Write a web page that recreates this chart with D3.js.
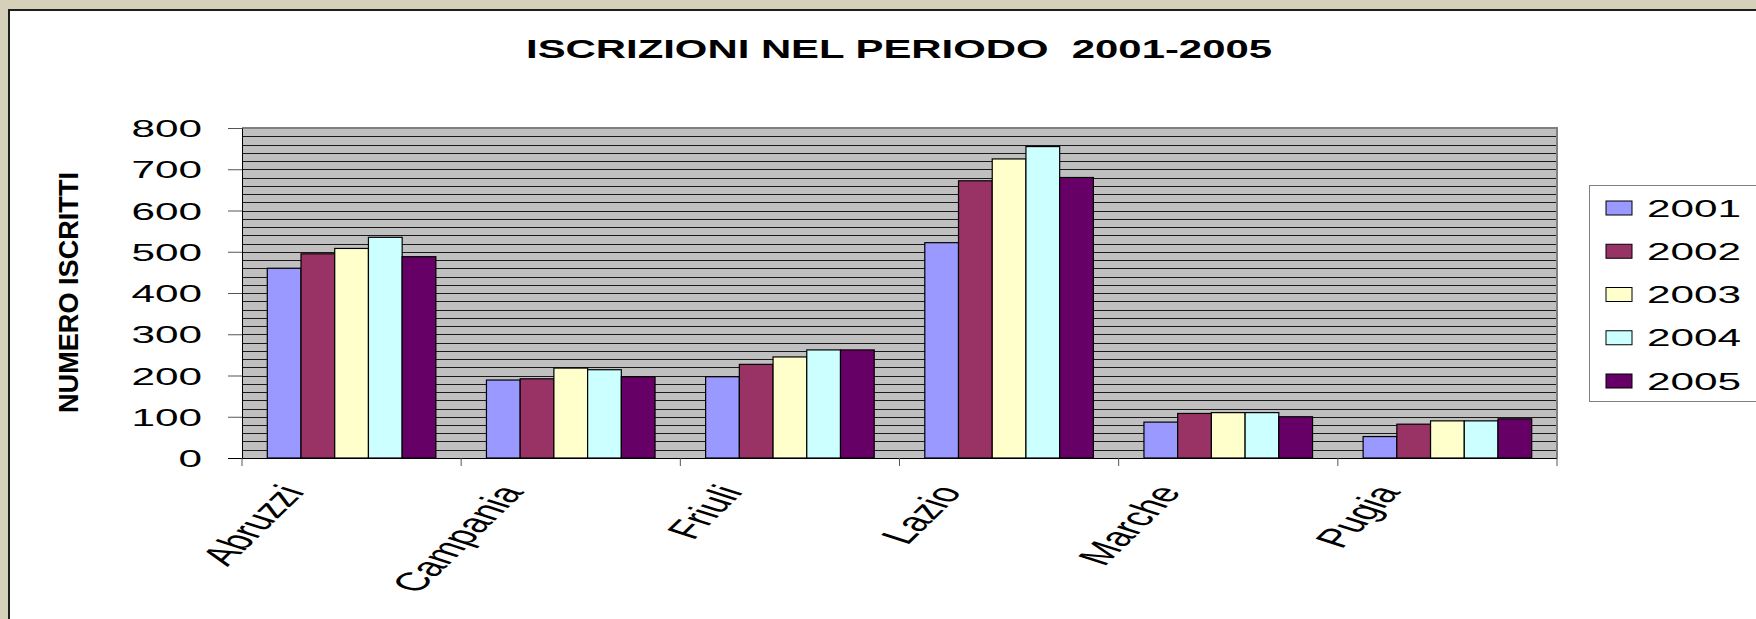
<!DOCTYPE html>
<html>
<head>
<meta charset="utf-8">
<script src="https://cdn.jsdelivr.net/npm/d3@7"></script>
<style>
  html, body { margin: 0; padding: 0; background: #d4d0b9; }
  svg { display: block; font-family: Arial, "Liberation Sans", sans-serif; }
</style>
</head>
<body>
<svg id="chart" width="1756" height="619"></svg>
<script>
'use strict';

// data
var categories = ["Abruzzi", "Campania", "Friuli", "Lazio", "Marche", "Pugia"];
var years = ["2001", "2002", "2003", "2004", "2005"];
var v2001 = [460, 189, 197, 522, 87, 52];
var v2002 = [495, 192, 227, 672, 108, 82];
var v2003 = [508, 218, 245, 725, 110, 90];
var v2004 = [535, 214, 262, 755, 110, 90];
var v2005 = [488, 197, 262, 680, 100, 95];
var yTicks = [0, 100, 200, 300, 400, 500, 600, 700, 800];
var colors = ["#9999ff", "#993366", "#ffffcc", "#ccffff", "#660066"];

var series = [v2001, v2002, v2003, v2004, v2005];

var W = 1756, H = 619;
var plot = {left: 242, top: 128, right: 1557, bottom: 458};
var SX = 1.8; // the source picture has its text stretched sideways

var svg = d3.select("#chart");

// tan frame + white chart area
svg.append("rect").attr("width", W).attr("height", H).attr("fill", "#d4d0b9");
svg.append("rect")
  .attr("x", 9).attr("y", 10)
  .attr("width", W).attr("height", H)
  .attr("fill", "#fff").attr("stroke", "#1e1e1e").attr("stroke-width", 2);

// scales
var x0 = d3.scaleBand().domain(categories).range([plot.left, plot.right]);
var x1 = d3.scaleBand().domain(years).range([0, x0.bandwidth()]).paddingOuter(0.75);
var y = d3.scaleLinear().domain([0, 800]).range([plot.bottom, plot.top]);

// plot background
svg.append("rect")
  .attr("x", plot.left).attr("y", plot.top)
  .attr("width", plot.right - plot.left).attr("height", plot.bottom - plot.top)
  .attr("fill", "#c0c0c0");

// gridlines every 20
svg.append("g")
  .selectAll("line")
  .data(d3.range(20, 800, 20))
  .enter().append("line")
    .attr("x1", plot.left).attr("x2", plot.right)
    .attr("y1", function(d) { return Math.round(y(d)) + 0.5; })
    .attr("y2", function(d) { return Math.round(y(d)) + 0.5; })
    .attr("stroke", "#1a1a1a").attr("stroke-width", 1);

// plot border top/right
svg.append("path")
  .attr("d", "M" + plot.left + "," + plot.top + "H" + plot.right + "V" + plot.bottom)
  .attr("fill", "none").attr("stroke", "#808080").attr("stroke-width", 2);

// bars
var groups = svg.append("g")
  .selectAll("g")
  .data(categories)
  .enter().append("g")
    .attr("transform", function(d) { return "translate(" + x0(d) + ",0)"; });

groups.selectAll("rect")
  .data(function(c, ci) {
    return years.map(function(yr, si) { return {year: yr, value: series[si][ci], i: si}; });
  })
  .enter().append("rect")
    .attr("x", function(d) { return x1(d.year); })
    .attr("y", function(d) { return y(d.value); })
    .attr("width", x1.bandwidth())
    .attr("height", function(d) { return plot.bottom - y(d.value); })
    .attr("fill", function(d) { return colors[d.i]; })
    .attr("stroke", "#000").attr("stroke-width", 1.2);

// y axis
var yAxis = svg.append("g")
  .attr("transform", "translate(" + plot.left + ",0)")
  .call(d3.axisLeft(y).tickValues(yTicks).tickSize(14).tickSizeOuter(0));
yAxis.select(".domain").attr("stroke", "#000");
yAxis.selectAll(".tick line").attr("stroke", "#555");
yAxis.selectAll(".tick text")
  .attr("x", null).attr("dy", null)
  .attr("font-size", 23.5).attr("fill", "#000")
  .attr("text-anchor", "end")
  .attr("transform", "translate(-40,8.5) scale(" + SX + ",1)");

// x axis: baseline and ticks at the band edges
var xAxis = svg.append("g")
  .attr("transform", "translate(0," + plot.bottom + ")")
  .call(d3.axisBottom(x0).tickSize(0).tickFormat(""));
xAxis.select(".domain")
  .attr("d", "M" + (plot.left - 14) + ",0.5H" + plot.right)
  .attr("stroke", "#000");
xAxis.selectAll(".tick").remove();

svg.append("g")
  .selectAll("line")
  .data(categories.concat([null]))
  .enter().append("line")
    .attr("x1", function(d) { return d ? x0(d) : plot.right; })
    .attr("x2", function(d) { return d ? x0(d) : plot.right; })
    .attr("y1", plot.bottom).attr("y2", plot.bottom + 8)
    .attr("stroke", "#555");

// category labels, rotated
svg.append("g")
  .selectAll("text")
  .data(categories)
  .enter().append("text")
    .attr("transform", function(d) {
      return "translate(" + (x0(d) + x0.bandwidth() / 2 - 46) + ",492) scale(" + SX + ",1) rotate(-60)";
    })
    .attr("text-anchor", "end")
    .attr("font-size", 26)
    .text(function(d) { return d; });

// title
svg.append("text")
  .attr("x", 526).attr("y", 58)
  .attr("font-size", 25).attr("font-weight", "bold")
  .attr("textLength", 746).attr("lengthAdjust", "spacingAndGlyphs")
  .style("white-space", "pre")
  .text("ISCRIZIONI NEL PERIODO  2001-2005");

// y axis title
svg.append("text")
  .attr("transform", "translate(78,292.5) rotate(-90)")
  .attr("text-anchor", "middle")
  .attr("font-size", 28).attr("font-weight", "bold")
  .attr("textLength", 241).attr("lengthAdjust", "spacingAndGlyphs")
  .text("NUMERO ISCRITTI");

// legend
var legend = svg.append("g");
legend.append("rect")
  .attr("x", 1589.5).attr("y", 185.5)
  .attr("width", 200).attr("height", 216)
  .attr("fill", "#fff").attr("stroke", "#808080").attr("stroke-width", 1);

var rowY = d3.scalePoint().domain(years).range([208, 381]);
var item = legend.selectAll("g.item")
  .data(years)
  .enter().append("g")
    .attr("class", "item")
    .attr("transform", function(d) { return "translate(0," + rowY(d) + ")"; });
item.append("rect")
  .attr("x", 1606).attr("y", -7)
  .attr("width", 26).attr("height", 14)
  .attr("fill", function(d, i) { return colors[i]; })
  .attr("stroke", "#000").attr("stroke-width", 1);
item.append("text")
  .attr("transform", "translate(1647,8.5) scale(" + SX + ",1)")
  .attr("font-size", 23.5)
  .text(function(d) { return d; });
</script>
</body>
</html>
